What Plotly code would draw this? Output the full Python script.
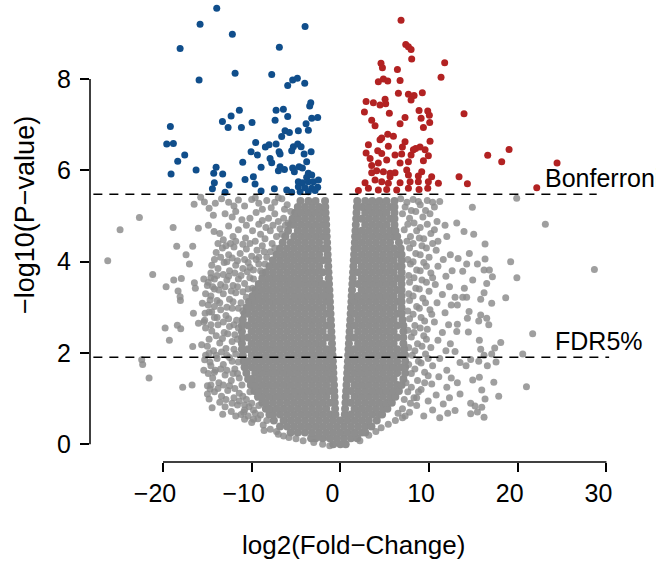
import plotly.graph_objects as go

# ---------------- data ----------------
blue_pts = [
(-13.94,9.55),(-15.82,9.20),(-12.18,8.98),(-3.98,9.15),(-18.07,8.67),(-6.88,8.70),(-15.93,7.98),(-11.87,8.13),
(-7.74,8.10),(-5.94,7.86),(-5.38,7.98),(-4.85,8.02),(-4.02,7.91),(-3.34,7.48),(-3.46,7.41),(-7.25,7.32),(-6.43,7.34),
(-5.94,7.18),(-7.36,7.10),(-3.23,7.14),(-2.56,7.16),(-11.39,7.32),(-12.32,7.19),(-13.30,7.07),(-12.66,6.94),(-11.16,6.94),
(-9.96,7.05),(-19.17,6.96),(-19.58,6.58),(-18.83,6.59),(-17.55,6.34),(-18.34,6.20),(-19.09,5.92),(-16.27,6.01),(-14.01,6.07),
(-14.28,5.94),(-13.27,5.92),(-14.21,5.73),(-14.43,5.60),(-12.55,5.68),(-13.00,5.52),(-11.01,6.18),(-10.75,5.80),(-9.81,5.86),
(-9.62,5.70),(-8.94,6.07),(-10.07,6.41),(-9.36,6.34),(-9.55,6.61),(-8.46,6.51),(-8.04,6.56),(-7.25,6.58),(-7.93,6.26),
(-7.74,6.17),(-6.91,6.41),(-6.80,6.36),(-6.62,6.74),(-6.24,6.87),(-5.75,6.83),(-4.74,6.87),(-3.87,7.02),(-3.61,6.88),
(-5.30,6.52),(-4.81,6.58),(-4.43,6.52),(-5.49,6.43),(-4.09,6.36),(-3.30,6.41),(-3.80,6.19),(-4.66,6.08),(-5.38,6.05),
(-5.19,5.97),(-6.80,6.08),(-6.99,5.99),(-6.31,6.02),(-4.28,6.05),(-3.61,5.94),(-3.23,5.90),(-3.80,5.85),(-4.74,5.75),
(-4.28,5.73),(-3.61,5.75),(-3.04,5.75),(-2.48,5.79),(-4.74,5.64),(-3.98,5.62),(-3.23,5.61),(-2.56,5.63),(-4.54,5.53),
(-3.61,5.53),(-2.85,5.56),(-6.05,5.57),(-5.49,5.52),(-7.44,5.60),(-8.94,5.55)
]

red_pts = [
(6.84,9.29),(7.37,8.76),(7.67,8.71),(7.97,8.65),(8.04,8.44),(4.58,8.35),(4.74,8.25),(6.43,8.21),(11.76,8.36),(11.35,8.04),
(4.28,7.94),(4.85,8.00),(5.34,7.96),(6.73,7.97),(6.54,7.69),(7.67,7.67),(8.31,7.64),(9.24,7.70),(7.97,7.54),(2.90,7.51),
(3.72,7.48),(4.47,7.43),(5.04,7.56),(5.11,7.46),(2.71,7.28),(5.52,7.25),(7.29,7.16),(8.87,7.31),(9.85,7.30),(10.03,7.21),
(9.10,7.14),(10.07,7.05),(9.36,6.94),(13.94,7.24),(3.53,7.10),(3.91,6.98),(6.73,7.02),(5.34,6.79),(5.98,6.75),(4.66,6.71),
(4.47,6.67),(7.29,6.63),(10.11,6.64),(3.16,6.56),(5.41,6.53),(6.99,6.51),(8.49,6.48),(8.98,6.51),(4.21,6.43),(4.66,6.37),
(2.90,6.38),(6.16,6.34),(6.91,6.36),(7.97,6.34),(8.23,6.45),(9.55,6.45),(9.92,6.32),(3.35,6.26),(5.22,6.23),(6.73,6.16),
(7.67,6.19),(9.36,6.21),(3.53,6.11),(16.61,6.33),(19.02,6.46),(18.19,6.19),(24.43,6.16),(22.14,5.62),(13.38,5.86),(14.32,5.71),
(3.53,5.95),(4.09,5.99),(4.85,5.97),(5.60,5.94),(6.16,5.95),(7.48,6.01),(7.67,5.90),(9.17,5.97),(8.79,5.88),(10.29,5.86),
(11.05,5.72),(9.92,5.75),(2.78,5.73),(3.91,5.79),(4.66,5.75),(5.41,5.72),(6.73,5.73),(7.86,5.75),(8.79,5.75),(2.03,5.56),
(3.16,5.61),(4.28,5.57),(5.22,5.58),(6.35,5.57),(7.67,5.61),(8.87,5.58),(9.85,5.61),(5.60,5.86),(4.28,6.16)
]

# scattered grey genes outside the dense core
gray_left_pts = [
(-22.66,4.97),(-24.84,4.70),(-26.23,4.02),(-18.86,4.75),(-16.01,4.73),(-16.49,5.26),(-15.75,5.41),(-15.33,5.31),
(-14.80,5.17),(-14.32,5.02),(-14.88,4.80),(-14.24,4.66),(-18.45,4.34),(-16.65,4.34),(-17.40,4.15),(-17.02,3.95),
(-21.16,3.72),(-18.79,3.60),(-17.93,3.63),(-19.65,3.45),(-18.30,3.36),(-18.07,3.23),(-18.04,3.15),(-16.46,3.54),
(-16.35,3.42),(-15.40,3.62),(-15.00,3.48),(-14.60,3.65),(-14.20,3.40),(-15.56,3.09),(-14.69,3.16),(-16.57,2.87),
(-15.25,2.87),(-14.51,2.90),(-19.76,2.55),(-18.38,2.61),(-18.00,2.53),(-19.28,2.28),(-16.65,2.14),(-15.64,2.18),
(-22.40,1.85),(-22.29,1.75),(-21.57,1.45),(-17.78,1.25),(-16.72,1.30),(-14.99,1.28),(-14.69,1.21),(-14.99,1.10),
(-14.80,0.99),(-14.46,0.80),(-13.27,0.66),(-16.00,2.65),(-15.30,2.72),(-15.20,1.95),(-14.70,1.80),(-15.40,1.62),
(-14.20,1.58),(-10.80,0.75)
]

gray_left_mid_pts = [
(-13.4,5.38),(-12.6,5.30),(-11.5,5.35),(-10.8,5.22),(-10.0,5.36),(-9.2,5.28),(-8.3,5.34),(-7.4,5.30),(-6.6,5.38),(-6.0,5.25),(-5.6,5.10),
(-13.0,5.05),(-12.2,4.98),(-11.1,4.92),(-10.2,4.95),(-9.5,5.08),(-8.8,4.90),(-8.1,4.95),(-7.4,5.05),(-7.0,4.88),(-6.4,4.95),(-5.9,4.85),
(-13.6,4.62),(-13.2,4.48),(-12.1,4.55),(-11.5,4.70),(-10.7,4.52),(-9.9,4.68),(-9.6,4.45),(-9.0,4.60),(-8.5,4.50),(-7.9,4.68),(-7.7,4.40),(-7.2,4.55),(-6.8,4.72),
(-14.0,4.20),(-13.3,4.30),(-12.6,4.15),(-12.0,4.32),(-11.3,4.18),(-10.6,4.28),(-10.0,4.12),(-9.4,4.25),(-8.8,4.35),(-8.3,4.10),(-7.9,4.22),
(-14.5,3.92),(-13.8,3.85),(-13.1,3.98),(-12.5,3.80),(-11.8,3.92),(-11.0,3.85),(-10.4,3.98),(-9.8,3.82),(-9.2,3.95),(-8.8,3.75),
(-14.9,3.55),(-14.2,3.62),(-13.5,3.50),(-12.8,3.60),(-12.1,3.48),(-11.5,3.62),(-10.8,3.52),(-10.2,3.65),(-9.9,3.42),
(-14.6,3.25),(-13.9,3.15),(-13.2,3.30),(-12.5,3.18),(-11.8,3.32),(-11.2,3.10),(-10.6,3.22),
(-14.8,2.90),(-14.2,2.78),(-13.5,2.95),(-12.9,2.82),(-12.2,2.98),(-11.7,2.72),
(-15.2,2.55),(-14.5,2.48),(-13.8,2.62),(-13.1,2.45),(-12.5,2.58),(-11.9,2.40),
(-15.0,2.15),(-14.3,2.05),(-13.6,2.22),(-12.9,2.10),(-12.2,2.25),(-11.8,1.98),
(-15.3,1.85),(-14.6,1.72),(-13.9,1.88),(-13.2,1.75),(-12.5,1.90),(-11.9,1.65),
(-14.4,1.45),(-13.7,1.35),(-13.0,1.52),(-12.3,1.40),(-11.6,1.55),(-11.1,1.30),
(-14.2,1.15),(-13.4,1.05),(-12.7,1.18),(-12.0,1.02),(-11.4,1.12),(-10.6,0.98),(-10.2,1.15),
(-13.0,0.82),(-12.3,0.72),(-11.6,0.86),(-10.9,0.70),(-10.3,0.82),(-9.6,0.68),(-9.2,0.85),
(-10.8,0.55),(-10.0,0.48),(-9.3,0.56),(-8.7,0.42),(-8.3,0.52),(-8.6,0.30),(-7.9,0.33),(-7.2,0.28),(-7.0,0.22),
(-6.4,0.18),(-5.8,0.15),(-5.0,0.12),(-4.2,0.08),(-3.0,0.04),(-2.0,0.00),(-1.2,-0.03),
(-12.0,5.22),(-9.6,5.40),(-8.8,5.15),(-7.8,5.18),(-7.0,5.40),(-6.3,5.15),(-14.1,5.28),
(-12.6,4.78),(-11.8,5.10),(-10.6,4.80),(-9.2,4.82),(-8.4,4.75),(-7.6,4.80),(-6.6,4.60),(-6.2,4.80),
(-13.8,4.40),(-12.9,4.35),(-12.4,4.40),(-11.8,4.45),(-11.0,4.38),(-10.2,4.40),(-9.2,4.10),(-8.6,4.22),(-7.4,4.30),
(-14.2,4.05),(-13.5,4.10),(-12.8,4.00),(-12.2,4.08),(-11.6,4.02),(-10.8,4.05),(-10.2,3.88),(-9.5,4.05),(-8.5,3.95),(-9.0,3.80),
(-14.6,3.75),(-13.9,3.70),(-13.2,3.72),(-12.6,3.68),(-11.9,3.75),(-11.2,3.70),(-10.5,3.78),(-9.8,3.62),
(-15.2,3.30),(-14.4,3.45),(-13.7,3.38),(-13.0,3.45),(-12.3,3.36),(-11.6,3.45),(-11.0,3.34),(-10.4,3.40),
(-14.9,3.05),(-14.2,3.02),(-13.6,3.10),(-12.8,3.00),(-12.1,3.12),(-11.5,2.98),(-11.0,2.92),
(-15.4,2.68),(-14.6,2.62),(-13.9,2.78),(-13.2,2.68),(-12.6,2.75),(-12.0,2.62),(-11.5,2.55),
(-14.8,2.30),(-14.0,2.38),(-13.3,2.32),(-12.7,2.42),(-12.0,2.08),(-11.6,2.30),
(-14.8,2.00),(-14.0,1.95),(-13.4,2.02),(-12.8,1.95),(-12.2,1.82),(-11.5,1.80),
(-14.9,1.55),(-14.1,1.62),(-13.5,1.65),(-12.8,1.62),(-12.1,1.55),(-11.4,1.45),
(-14.6,1.30),(-13.8,1.22),(-13.2,1.30),(-12.5,1.28),(-11.9,1.22),(-11.0,1.05),
(-13.6,0.92),(-12.9,0.98),(-12.2,0.90),(-11.4,0.95),(-10.8,0.86),(-10.0,0.90),(-9.8,0.75),
(-11.8,0.62),(-11.2,0.65),(-10.4,0.62),(-9.8,0.55),(-9.0,0.64)
]

gray_right_mid_pts = [
(6.8,5.38),(7.5,5.30),(8.2,5.36),(9.0,5.25),(9.8,5.34),(10.6,5.20),(11.2,5.32),
(7.0,5.05),(7.8,4.95),(8.5,5.10),(9.3,4.98),(10.1,5.05),(10.9,4.88),(11.8,4.80),
(7.2,4.70),(7.9,4.55),(8.6,4.68),(9.4,4.50),(10.2,4.62),(11.0,4.45),(12.0,4.55),
(7.8,4.30),(8.5,4.18),(9.2,4.35),(10.0,4.10),(10.8,4.25),(11.6,4.05),(12.4,4.15),
(7.9,3.95),(8.6,3.82),(9.4,3.98),(10.2,3.75),(11.0,3.90),(11.9,3.68),(12.6,3.80),
(7.8,3.55),(8.5,3.42),(9.2,3.60),(10.0,3.35),(10.7,3.50),(11.5,3.28),(12.3,3.45),
(7.8,3.15),(8.6,3.02),(9.3,3.20),(10.1,2.95),(10.9,3.10),(11.8,2.88),(12.5,3.05),
(7.8,2.75),(8.4,2.60),(9.1,2.78),(9.8,2.52),(10.6,2.68),(11.5,2.45),(12.2,2.62),
(8.0,2.35),(8.7,2.20),(9.4,2.38),(10.2,2.12),(11.0,2.28),(11.9,2.05),(12.4,2.20),
(8.1,1.95),(8.8,1.82),(9.6,1.98),(10.4,1.72),(11.2,1.88),(12.0,1.62),
(8.0,1.55),(8.7,1.40),(9.5,1.58),(10.3,1.32),(11.1,1.48),(12.0,1.25),(12.5,1.45),
(7.6,1.15),(8.3,1.02),(9.1,1.20),(9.9,0.95),(10.8,1.08),(11.6,0.88),(12.3,1.02),
(7.0,0.78),(7.8,0.70),(8.6,0.85),(9.4,0.62),(10.4,0.75),(11.2,0.58),(12.1,0.68),
(6.2,0.52),(7.0,0.58),(5.4,0.44),(4.6,0.36),(4.0,0.28),(3.2,0.20),(2.2,0.08),
(7.3,5.20),(8.0,5.12),(8.8,5.32),(9.6,5.12),(10.4,5.30),(7.6,4.82),(8.3,4.85),(9.0,4.75),(9.8,4.82),(10.6,4.70),
(7.5,4.45),(8.2,4.40),(8.9,4.52),(9.7,4.30),(10.4,4.40),(7.6,4.05),(8.2,4.00),(9.0,4.15),(9.7,3.90),
(7.7,3.70),(8.3,3.65),(9.0,3.80),(9.7,3.55),(10.4,3.65),(7.7,3.30),(8.2,3.25),(8.9,3.40),(9.6,3.10),
(7.6,2.92),(8.2,2.85),(8.9,2.98),(9.5,2.70),(10.3,2.85),(7.6,2.50),(8.3,2.45),(9.0,2.55),(9.7,2.30),
(7.7,2.12),(8.4,2.05),(9.2,2.15),(9.9,1.88),(7.7,1.75),(8.4,1.65),(9.1,1.78),(9.9,1.50),
(7.4,1.35),(8.0,1.25),(8.8,1.15),(9.5,1.35),(7.2,0.98),(7.9,0.90),(8.6,1.02),(6.5,0.68),(7.3,0.62)
]

gray_right_pts = [
(19.88,5.39),(14.88,5.19),(23.11,4.82),(13.12,4.85),(13.94,4.66),(15.03,4.60),(16.31,4.39),(14.54,4.18),(13.27,4.07),
(14.24,3.95),(15.45,3.95),(16.31,4.06),(19.20,4.00),(13.79,3.79),(16.20,3.82),(16.80,3.82),(17.14,3.67),(19.90,3.65),
(28.64,3.83),(14.92,3.60),(16.50,3.52),(13.98,3.42),(16.20,3.32),(12.93,3.22),(13.79,3.22),(14.24,3.22),(15.82,3.18),
(17.06,3.09),(18.64,3.21),(13.19,3.05),(14.51,2.91),(15.82,2.83),(14.32,2.76),(16.50,2.76),(15.60,2.70),(16.73,2.62),
(13.19,2.63),(13.12,2.47),(14.43,2.46),(15.67,2.28),(18.08,2.23),(21.68,2.42),(17.40,2.11),(15.82,2.08),(17.06,1.98),
(16.20,1.95),(20.56,1.98),(12.93,2.03),(14.69,1.86),(15.60,1.82),(16.57,1.72),(17.55,1.80),(13.49,1.79),(14.17,1.72),
(15.67,1.47),(14.92,1.41),(17.30,1.36),(13.19,1.35),(20.98,1.26),(15.94,1.19),(13.49,1.10),(16.31,0.99),(17.85,1.05),
(14.69,0.90),(15.18,0.84),(15.94,0.81),(15.45,0.71),(14.69,0.67),(16.20,0.59),(12.93,0.74)
]

# dense core of non-significant genes, one list of log2FC values per -log10(p) row
core_row_y = [0.00,0.13,0.26,0.39,0.52,0.65,0.78,0.91,1.04,1.17,1.30,1.43,1.56,1.69,1.82,1.95,2.08,2.21,2.34,2.47,2.60,
              2.73,2.86,2.99,3.12,3.25,3.38,3.51,3.64,3.77,3.90,4.03,4.16,4.29,4.42,4.55,4.68,4.81,4.94,5.07,5.20,5.33]
core_row_x = [
 [-0.8,0.0,0.6],
 [-3.3,-2.8,-2.0,-1.2,-0.4,0.4,1.2,1.9],
 [-5.6,-4.8,-4.0,-3.2,-2.4,-1.6,-0.8,0.0,0.8,1.6,2.4,2.8],
 [-6.8,-6.0,-5.2,-4.4,-3.6,-2.8,-2.0,-1.2,-0.4,0.4,1.2,2.0,2.8,3.5],
 [-7.5,-6.4,-5.6,-4.8,-4.0,-3.2,-2.4,-1.6,-0.8,0.0,0.8,1.6,2.4,3.2,4.1],
 [-8.0,-7.6,-6.8,-6.0,-5.2,-4.4,-3.6,-2.8,-2.0,-1.2,-0.56,0.5,1.2,2.0,2.8,3.6,4.4,4.7],
 [-8.4,-8.0,-7.2,-6.4,-5.6,-4.8,-4.0,-3.2,-2.4,-1.6,-0.6,0.53,1.6,2.4,3.2,4.0,4.8,5.3],
 [-8.8,-8.4,-7.6,-6.8,-6.0,-5.2,-4.4,-3.6,-2.8,-2.0,-1.2,-0.63,0.57,1.2,2.0,2.8,3.6,4.4,5.2,5.8],
 [-9.3,-8.8,-8.0,-7.2,-6.4,-5.6,-4.8,-4.0,-3.2,-2.4,-1.6,-0.66,0.61,1.6,2.4,3.2,4.0,4.8,5.6,6.2],
 [-9.7,-9.2,-8.4,-7.6,-6.8,-6.0,-5.2,-4.4,-3.6,-2.8,-2.0,-1.2,-0.69,0.65,1.2,2.0,2.8,3.6,4.4,5.2,6.0,6.6],
 [-10.1,-9.6,-8.8,-8.0,-7.2,-6.4,-5.6,-4.8,-4.0,-3.2,-2.4,-1.6,-0.72,0.69,1.6,2.4,3.2,4.0,4.8,5.6,6.4,6.9],
 [-10.4,-10.0,-9.2,-8.4,-7.6,-6.8,-6.0,-5.2,-4.4,-3.6,-2.8,-2.0,-1.2,-0.76,0.73,1.2,2.0,2.8,3.6,4.4,5.2,6.0,7.1],
 [-10.6,-9.6,-8.8,-8.0,-7.2,-6.4,-5.6,-4.8,-4.0,-3.2,-2.4,-1.6,-0.79,0.77,1.6,2.4,3.2,4.0,4.8,5.6,6.4,7.3],
 [-10.8,-10.0,-9.2,-8.4,-7.6,-6.8,-6.0,-5.2,-4.4,-3.6,-2.8,-2.0,-1.2,-0.82,0.81,1.2,2.0,2.8,3.6,4.4,5.2,6.0,6.8,7.3],
 [-10.9,-10.4,-9.6,-8.8,-8.0,-7.2,-6.4,-5.6,-4.8,-4.0,-3.2,-2.4,-1.6,-0.85,0.85,1.6,2.4,3.2,4.0,4.8,5.6,6.4,7.3],
 [-11.0,-10.0,-9.2,-8.4,-7.6,-6.8,-6.0,-5.2,-4.4,-3.6,-2.8,-2.0,-1.2,-0.89,0.88,1.2,2.0,2.8,3.6,4.4,5.2,6.0,6.8,7.3],
 [-11.1,-10.4,-9.6,-8.8,-8.0,-7.2,-6.4,-5.6,-4.8,-4.0,-3.2,-2.4,-1.6,-0.92,0.92,1.6,2.4,3.2,4.0,4.8,5.6,6.4,7.2],
 [-11.1,-10.0,-9.2,-8.4,-7.6,-6.8,-6.0,-5.2,-4.4,-3.6,-2.8,-2.0,-0.95,0.96,2.0,2.8,3.6,4.4,5.2,6.0,7.1],
 [-11.1,-10.4,-9.6,-8.8,-8.0,-7.2,-6.4,-5.6,-4.8,-4.0,-3.2,-2.4,-1.6,-0.98,1.0,1.6,2.4,3.2,4.0,4.8,5.6,6.4,7.1],
 [-11.1,-10.0,-9.2,-8.4,-7.6,-6.8,-6.0,-5.2,-4.4,-3.6,-2.8,-2.0,-1.02,1.04,2.0,2.8,3.6,4.4,5.2,6.0,7.1],
 [-11.1,-10.4,-9.6,-8.8,-8.0,-7.2,-6.4,-5.6,-4.8,-4.0,-3.2,-2.4,-1.6,-1.05,1.08,1.6,2.4,3.2,4.0,4.8,5.6,6.4,7.1],
 [-11.0,-10.0,-9.2,-8.4,-7.6,-6.8,-6.0,-5.2,-4.4,-3.6,-2.8,-2.0,-1.08,1.12,2.0,2.8,3.6,4.4,5.2,6.0,7.0],
 [-10.8,-10.4,-9.6,-8.8,-8.0,-7.2,-6.4,-5.6,-4.8,-4.0,-3.2,-2.4,-1.6,-1.11,1.16,1.6,2.4,3.2,4.0,4.8,5.6,6.4,6.9],
 [-10.6,-10.0,-9.2,-8.4,-7.6,-6.8,-6.0,-5.2,-4.4,-3.6,-2.8,-2.0,-1.15,1.2,2.0,2.8,3.6,4.4,5.2,6.0,6.9],
 [-10.3,-9.6,-8.8,-8.0,-7.2,-6.4,-5.6,-4.8,-4.0,-3.2,-2.4,-1.6,-1.18,1.24,1.6,2.4,3.2,4.0,4.8,5.6,6.4,6.9],
 [-9.9,-9.2,-8.4,-7.6,-6.8,-6.0,-5.2,-4.4,-3.6,-2.8,-2.0,-1.21,1.27,2.0,2.8,3.6,4.4,5.2,6.0,6.9],
 [-9.6,-8.8,-8.0,-7.2,-6.4,-5.6,-4.8,-4.0,-3.2,-2.4,-1.6,-1.24,1.31,2.4,3.2,4.0,4.8,5.6,6.4,6.9],
 [-9.2,-8.4,-7.6,-6.8,-6.0,-5.2,-4.4,-3.6,-2.8,-2.0,-1.28,1.35,2.0,2.8,3.6,4.4,5.2,6.0,6.9],
 [-8.8,-8.0,-7.2,-6.4,-5.6,-4.8,-4.0,-3.2,-2.4,-1.31,1.39,2.4,3.2,4.0,4.8,5.6,6.4,6.9],
 [-8.4,-7.6,-6.8,-6.0,-5.2,-4.4,-3.6,-2.8,-2.0,-1.34,1.43,2.0,2.8,3.6,4.4,5.2,6.0,6.9],
 [-8.0,-7.2,-6.4,-5.6,-4.8,-4.0,-3.2,-2.4,-1.37,1.47,2.4,3.2,4.0,4.8,5.6,6.4,6.9],
 [-7.6,-6.8,-6.0,-5.2,-4.4,-3.6,-2.8,-2.0,-1.41,1.51,2.0,2.8,3.6,4.4,5.2,6.0,6.9],
 [-7.2,-6.4,-5.6,-4.8,-4.0,-3.2,-2.4,-1.44,1.55,2.4,3.2,4.0,4.8,5.6,6.4,6.9],
 [-6.8,-6.0,-5.2,-4.4,-3.6,-2.8,-2.0,-1.47,1.59,2.0,2.8,3.6,4.4,5.2,6.0,6.8],
 [-6.5,-5.6,-4.8,-4.0,-3.2,-2.4,-1.5,1.63,2.4,3.2,4.0,4.8,5.6,6.6],
 [-6.2,-5.2,-4.4,-3.6,-2.8,-2.0,-1.54,1.66,2.0,2.8,3.6,4.4,5.2,6.0,6.4],
 [-5.9,-4.8,-4.0,-3.2,-2.4,-1.57,1.7,2.4,3.2,4.0,4.8,5.6,6.2],
 [-5.6,-5.2,-4.4,-3.6,-2.8,-2.0,-1.6,1.74,2.8,3.6,4.4,5.2,6.1],
 [-5.4,-4.8,-4.0,-3.2,-2.4,-1.63,1.78,2.4,3.2,4.0,4.8,5.6,6.1],
 [-5.1,-4.4,-3.6,-2.8,-2.0,-1.67,1.82,2.8,3.6,4.4,5.2,6.1],
 [-4.8,-4.0,-3.2,-2.4,-1.7,1.86,2.4,3.2,4.0,4.8,5.6,6.1],
 [-4.5,-3.6,-2.8,-1.73,1.9,2.8,3.6,4.4,5.2,6.1],
]

x_ticks = [-20, -10, 0, 10, 20, 30]
y_ticks = [0, 2, 4, 6, 8]
bonferroni_y = 5.48
fdr_y = 1.906
x_title = "log2(Fold\u2212Change)"
y_title = "\u2212log10(P\u2212value)"

# ---------------- build ----------------
core_x = [x for row in core_row_x for x in row]
core_y = [y for row, y in zip(core_row_x, core_row_y) for _ in row]
gray_pts = gray_left_pts + gray_left_mid_pts + gray_right_mid_pts + gray_right_pts

GRAY_CORE = "rgb(142,142,142)"
GRAY = "rgba(140,140,140,0.83)"
BLUE = "#104E8B"
RED = "#B22222"
FONT = "Liberation Sans, Arial, Helvetica, sans-serif"

fig = go.Figure()
fig.add_trace(go.Scatter(x=core_x, y=core_y, mode="markers",
                         marker=dict(size=8, color=GRAY_CORE, line=dict(width=0)), hoverinfo="skip"))
fig.add_trace(go.Scatter(x=[p[0] for p in gray_pts], y=[p[1] for p in gray_pts], mode="markers",
                         marker=dict(size=7, color=GRAY, line=dict(width=0))))
fig.add_trace(go.Scatter(x=[p[0] for p in blue_pts], y=[p[1] for p in blue_pts], mode="markers",
                         marker=dict(size=7, color=BLUE, line=dict(width=0))))
fig.add_trace(go.Scatter(x=[p[0] for p in red_pts], y=[p[1] for p in red_pts], mode="markers",
                         marker=dict(size=7, color=RED, line=dict(width=0))))

shapes = [
    dict(type="line", xref="x", yref="paper", x0=-20, x1=30, y0=0, y1=0, line=dict(color="black", width=1.5)),
    dict(type="line", xref="paper", yref="y", x0=0, x1=0, y0=0, y1=8, line=dict(color="black", width=1.5)),
    dict(type="line", xref="x", yref="y", x0=-27.85, x1=28.9, y0=bonferroni_y, y1=bonferroni_y,
         line=dict(color="black", width=1.5, dash="9px,7px")),
    dict(type="line", xref="x", yref="y", x0=-27.85, x1=30.3, y0=fdr_y, y1=fdr_y,
         line=dict(color="black", width=1.5, dash="9px,7px")),
]

annotations = [
    dict(x=22.9, y=5.83, xref="x", yref="y", text="Bonferroni", showarrow=False, xanchor="left", yanchor="middle",
         font=dict(family=FONT, size=25, color="black")),
    dict(x=24.0, y=2.26, xref="x", yref="y", text="FDR5%", showarrow=False, xanchor="left", yanchor="middle",
         font=dict(family=FONT, size=25, color="black")),
    dict(x=(353 - 90) / 524, y=(462 - 545) / 461, xref="paper", yref="paper", text=x_title, showarrow=False,
         xanchor="center", yanchor="middle", font=dict(family=FONT, size=26, color="black")),
    dict(x=(25 - 90) / 524, y=(462 - 215) / 461, xref="paper", yref="paper", text=y_title, showarrow=False,
         textangle=-90, xanchor="center", yanchor="middle", font=dict(family=FONT, size=27, color="black")),
]

fig.update_layout(
    width=656, height=561,
    margin=dict(l=90, r=42, t=1, b=99),
    paper_bgcolor="white", plot_bgcolor="white",
    showlegend=False,
    shapes=shapes, annotations=annotations,
    font=dict(family=FONT, size=24, color="black"),
    xaxis=dict(range=[-28.23, 30.85], tickmode="array", tickvals=x_ticks, ticks="outside", ticklen=9,
               tickwidth=1.5, tickcolor="black", showline=False, showgrid=False, zeroline=False,
               ticklabelshift=-8,
               tickfont=dict(family=FONT, size=25, color="black")),
    yaxis=dict(range=[-0.388, 9.711], tickmode="array", tickvals=y_ticks, ticks="outside", ticklen=9,
               tickwidth=1.5, tickcolor="black", showline=False, showgrid=False, zeroline=False,
               ticklabelstandoff=4,
               tickfont=dict(family=FONT, size=25, color="black")),
)

fig.write_html("out.html", config={"displayModeBar": False},
               post_script="document.body.style.margin='0px';document.body.style.overflow='hidden';")
